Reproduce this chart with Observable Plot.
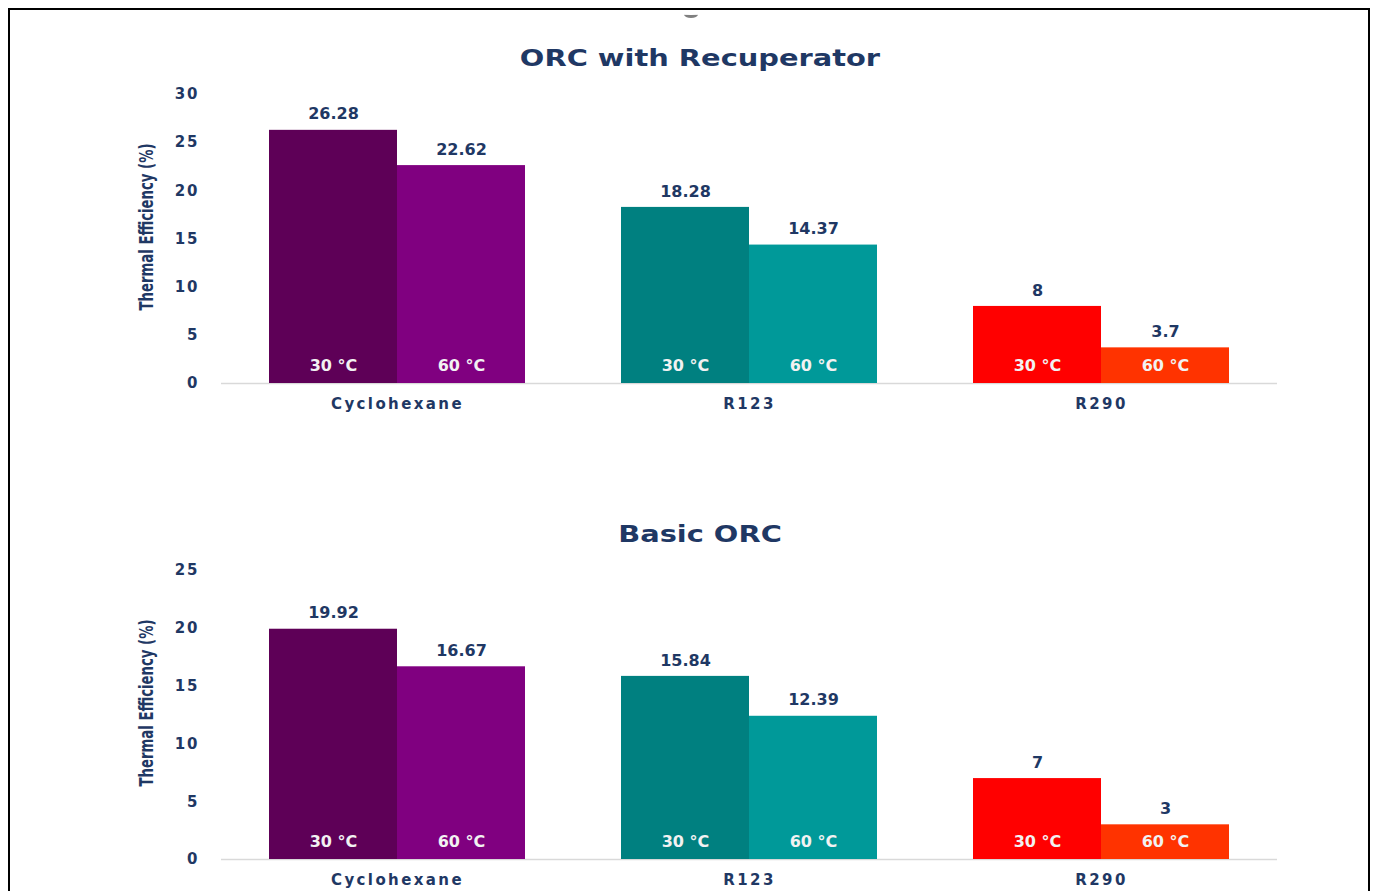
<!DOCTYPE html>
<html>
<head>
<meta charset="utf-8">
<script src="https://cdn.jsdelivr.net/npm/d3@7"></script>
<script src="https://cdn.jsdelivr.net/npm/@observablehq/plot@0.6"></script>
<style>
  html, body { margin: 0; padding: 0; background: #fff; width: 1375px; height: 891px; overflow: hidden; }
  #frame { position: absolute; left: 8px; top: 8px; width: 1358px; height: 900px; border: 2px solid #000; }
  #arc { position: absolute; left: 684px; top: 11px; width: 14px; height: 4px; border-bottom: 3px solid #808080; border-radius: 0 0 50% 50%; }
  .title { position: absolute; left: 400px; width: 600px; text-align: center; font-family: "DejaVu Sans", Verdana, sans-serif; font-weight: bold; font-size: 23px; color: #1f3864; transform: scaleX(1.255); transform-origin: center; line-height: 28px; }
  .ylab { position: absolute; font-family: "Liberation Sans Narrow", "DejaVu Sans Condensed", sans-serif; font-weight: bold; font-size: 19px; color: #1f3864; transform: translate(-50%, -50%) rotate(-90deg) scaleX(0.775); white-space: nowrap; }
  .chart { position: absolute; left: 0; }
  .chart svg { font-family: "DejaVu Sans", Verdana, sans-serif; font-weight: bold; }
  g[aria-label="value labels"] text { letter-spacing: 1.75px; }
  g[aria-label="temperature labels"] text { letter-spacing: 2.6px; }
  g[aria-label="fx-axis tick label"] text { letter-spacing: 2.4px; }
  g[aria-label="y-axis tick label"] text { letter-spacing: 2px; }
</style>
</head>
<body>
<div id="frame"></div>
<div id="arc"></div>
<div class="title" style="top:44px">ORC with Recuperator</div>
<div class="ylab" style="left:146px; top:227px">Thermal Efficiency (%)</div>
<div class="chart" id="c1" style="top:80px"></div>
<div class="title" style="top:520px">Basic ORC</div>
<div class="ylab" style="left:146px; top:703px">Thermal Efficiency (%)</div>
<div class="chart" id="c2" style="top:556px"></div>
<script>
const fluids = ["Cyclohexane", "R123", "R290"];
const temps = ["30 °C", "60 °C"];
const recupValues = [26.28, 22.62, 18.28, 14.37, 8, 3.7];
const basicValues = [19.92, 16.67, 15.84, 12.39, 7, 3];
const barColors = ["#5e0057", "#800080", "#008080", "#009999", "#ff0000", "#ff3300"];
const recupTicks = [0, 5, 10, 15, 20, 25, 30];
const basicTicks = [0, 5, 10, 15, 20, 25];

function table(values) {
  const rows = [];
  fluids.forEach((f, i) => temps.forEach((t, j) => {
    rows.push({fluid: f, temp: t, key: f + " " + t, value: values[i * 2 + j]});
  }));
  return rows;
}
const keys = [];
fluids.forEach(f => temps.forEach(t => keys.push(f + " " + t)));

function chart(values, ticks) {
  const data = table(values);
  const navy = "#1f3864";
  return Plot.plot({
    width: 1375,
    height: 338,
    marginLeft: 221,
    marginRight: 98,
    marginTop: 14,
    marginBottom: 35,
    style: {fontFamily: "DejaVu Sans, Verdana, sans-serif", fontWeight: "bold", color: navy, background: "transparent"},
    fx: {domain: fluids, padding: 0, label: null},
    x: {domain: temps, axis: null, paddingInner: 0, paddingOuter: 0.375},
    y: {domain: [0, ticks[ticks.length - 1]], label: null},
    color: {domain: keys, range: barColors},
    marks: [
      Plot.axisY({ticks: ticks, tickSize: 0, tickPadding: 22, fontSize: 15, fill: navy, label: null}),
      Plot.axisFx({anchor: "bottom", tickSize: 0, tickPadding: 15, fontSize: 15, fill: navy, label: null}),
      Plot.ruleY([0], {stroke: "#d9d9d9", strokeWidth: 1.5}),
      Plot.barY(data, {fx: "fluid", x: "temp", y: "value", fill: "key", inset: 0}),
      Plot.text(data, {fx: "fluid", x: "temp", y: "value", text: d => String(d.value), dy: -16, fontSize: 16, fill: navy, ariaLabel: "value labels"}),
      Plot.text(data, {fx: "fluid", x: "temp", y: () => 0, text: "temp", dy: -18, fontSize: 16, fill: "#f2f2f2", ariaLabel: "temperature labels"})
    ]
  });
}

document.getElementById("c1").appendChild(chart(recupValues, recupTicks));
document.getElementById("c2").appendChild(chart(basicValues, basicTicks));
</script>
</body>
</html>
